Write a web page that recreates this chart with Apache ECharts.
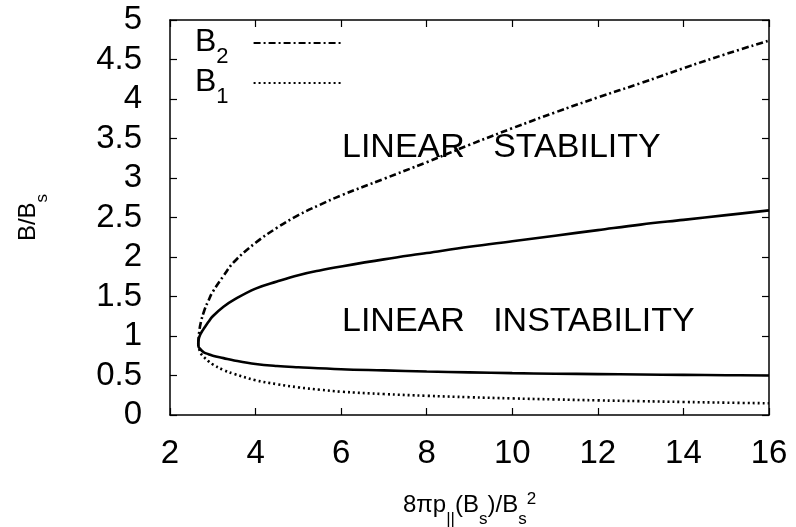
<!DOCTYPE html>
<html>
<head>
<meta charset="utf-8">
<script src="https://cdn.jsdelivr.net/npm/echarts@6/dist/echarts.min.js"></script>
<style>html,body{margin:0;padding:0;background:#fff;}#c{width:796px;height:527px;}</style>
</head>
<body>
<div id="c"></div>
<script>
// ---- data ----
const xTicks = { min: 2, max: 16, interval: 2 };
const yTicks = { min: 0, max: 5, interval: 0.5 };

// solid boundary curve: upper branch (from x=16 down to vertex) then lower branch
const solidUpperX = [16, 15, 14, 13, 12, 11, 10, 9, 8, 7, 6, 5.5, 5, 4.5, 4, 3.5, 3.25, 3, 2.9, 2.8, 2.75, 2.7, 2.67, 2.66];
const solidUpperY = [2.59, 2.53, 2.47, 2.41, 2.34, 2.27, 2.2, 2.13, 2.05, 1.97, 1.88, 1.83, 1.77, 1.69, 1.6, 1.46, 1.37, 1.25, 1.18, 1.1, 1.06, 1.01, 0.96, 0.9];
const solidLowerX = [2.67, 2.7, 2.75, 2.8, 2.9, 3, 3.25, 3.5, 4, 4.5, 5, 6, 7, 8, 9, 10, 11, 12, 13, 14, 15, 16];
const solidLowerY = [0.86, 0.84, 0.81, 0.79, 0.77, 0.75, 0.72, 0.69, 0.645, 0.62, 0.605, 0.58, 0.565, 0.55, 0.54, 0.53, 0.523, 0.518, 0.513, 0.508, 0.504, 0.5];

// B2 (dash-dot)
const b2X = [2.66, 2.68, 2.72, 2.8, 2.9, 3, 3.25, 3.5, 4, 4.5, 5, 5.5, 6, 7, 8, 9, 10, 11, 12, 13, 14, 15, 16];
const b2Y = [0.9, 1.04, 1.17, 1.32, 1.45, 1.56, 1.76, 1.94, 2.18, 2.37, 2.53, 2.66, 2.78, 2.99, 3.2, 3.42, 3.63, 3.83, 4.02, 4.2, 4.39, 4.57, 4.74];

// B1 (dotted)
const b1X = [2.66, 2.68, 2.72, 2.8, 2.9, 3, 3.25, 3.5, 4, 4.5, 5, 5.5, 6, 7, 8, 9, 10, 11, 12, 13, 14, 15, 16];
const b1Y = [0.9, 0.84, 0.78, 0.73, 0.68, 0.64, 0.57, 0.52, 0.44, 0.39, 0.35, 0.32, 0.295, 0.265, 0.243, 0.225, 0.21, 0.197, 0.185, 0.175, 0.165, 0.156, 0.148];

const regionLabels = ['LINEAR   STABILITY', 'LINEAR   INSTABILITY'];

// ---- build ----
const zip = (xs, ys) => xs.map((x, i) => [x, ys[i]]);
const solidData = zip(solidUpperX, solidUpperY).concat(zip(solidLowerX, solidLowerY));
const FONT = '"Liberation Sans", Arial, Helvetica, sans-serif';

const chart = echarts.init(document.getElementById('c'), null, { renderer: 'canvas' });

const axisCommon = {
  axisLine: { show: true, onZero: false, lineStyle: { color: '#000', width: 1.5 } },
  axisTick: { show: true, inside: true, length: 7, lineStyle: { color: '#000', width: 1.2 } },
  splitLine: { show: false }
};

const nameRich = {
  n: { fontSize: 24, lineHeight: 30, verticalAlign: 'top', padding: [7, 0, 0, 0], color: '#000', fontFamily: FONT },
  sub: { fontSize: 17, lineHeight: 17, verticalAlign: 'top', padding: [25, 0, 0, 0], color: '#000', fontFamily: FONT },
  sup: { fontSize: 17, lineHeight: 17, verticalAlign: 'top', padding: [5, 0, 0, 0], color: '#000', fontFamily: FONT }
};

const option = {
  backgroundColor: '#fff',
  animation: false,
  textStyle: { fontFamily: FONT, color: '#000' },
  grid: { left: 170, right: 27, top: 20, bottom: 112, containLabel: false, outerBoundsMode: 'none' },
  legend: {
    orient: 'vertical',
    left: 195,
    top: 26,
    padding: 0,
    itemGap: -2,
    itemWidth: 90,
    itemHeight: 14,
    align: 'right',
    selectedMode: false,
    data: ['B2', 'B1'],
    itemStyle: { opacity: 0, borderWidth: 0 },
    formatter: name => '{b|B}{s|' + name.slice(1) + '}',
    textStyle: {
      rich: {
        b: { fontSize: 32, lineHeight: 34, verticalAlign: 'top', color: '#000', fontFamily: FONT },
        s: { fontSize: 22, lineHeight: 16, verticalAlign: 'top', padding: [20, 20, 0, 0], color: '#000', fontFamily: FONT }
      }
    }
  },
  xAxis: [
    Object.assign({}, axisCommon, {
      type: 'value', position: 'bottom',
      min: xTicks.min, max: xTicks.max, interval: xTicks.interval,
      axisLabel: { show: true, fontSize: 33, color: '#000', margin: 22, fontFamily: FONT },
      name: '{n|8πp}{sub|||}{n|(B}{sub|s}{n|)/B}{sub|s}{sup|2}',
      nameLocation: 'middle', nameGap: 86,
      nameTextStyle: { verticalAlign: 'middle', rich: nameRich }
    }),
    Object.assign({}, axisCommon, {
      type: 'value', position: 'top',
      min: xTicks.min, max: xTicks.max, interval: xTicks.interval,
      axisLabel: { show: false }
    })
  ],
  yAxis: [
    Object.assign({}, axisCommon, {
      type: 'value', position: 'left',
      min: yTicks.min, max: yTicks.max, interval: yTicks.interval,
      axisLabel: { show: true, fontSize: 33, color: '#000', margin: 28, fontFamily: FONT },
      name: '{n|B/B}{sub|s}',
      nameLocation: 'middle', nameGap: 146, nameRotate: 90,
      nameTextStyle: { verticalAlign: 'middle', rich: nameRich }
    }),
    Object.assign({}, axisCommon, {
      type: 'value', position: 'right',
      min: yTicks.min, max: yTicks.max, interval: yTicks.interval,
      axisLabel: { show: false }
    })
  ],
  series: [
    {
      name: 'boundary', type: 'line', xAxisIndex: 0, yAxisIndex: 0,
      data: solidData, showSymbol: false, symbol: 'none', symbolSize: 0, smooth: 0.4,
      lineStyle: { color: '#000', width: 2.6 }, z: 3
    },
    {
      name: 'B2', type: 'line', xAxisIndex: 0, yAxisIndex: 0,
      data: zip(b2X, b2Y), showSymbol: false, symbol: 'none', symbolSize: 0, smooth: 0.4,
      itemStyle: { color: '#000' },
      lineStyle: { color: '#000', width: 2.6, type: [7, 3, 2, 3] }, z: 2
    },
    {
      name: 'B1', type: 'line', xAxisIndex: 0, yAxisIndex: 0,
      data: zip(b1X, b1Y), showSymbol: false, symbol: 'none', symbolSize: 0, smooth: 0.4,
      itemStyle: { color: '#000' },
      lineStyle: { color: '#000', width: 2.6, type: [2, 3] }, z: 2
    }
  ],
  graphic: [
    { type: 'text', left: 342, top: 131, style: { text: regionLabels[0], font: '34px ' + FONT, fill: '#000' } },
    { type: 'text', left: 342, top: 305, style: { text: regionLabels[1], font: '34px ' + FONT, fill: '#000' } }
  ]
};
chart.setOption(option);
</script>
</body>
</html>
